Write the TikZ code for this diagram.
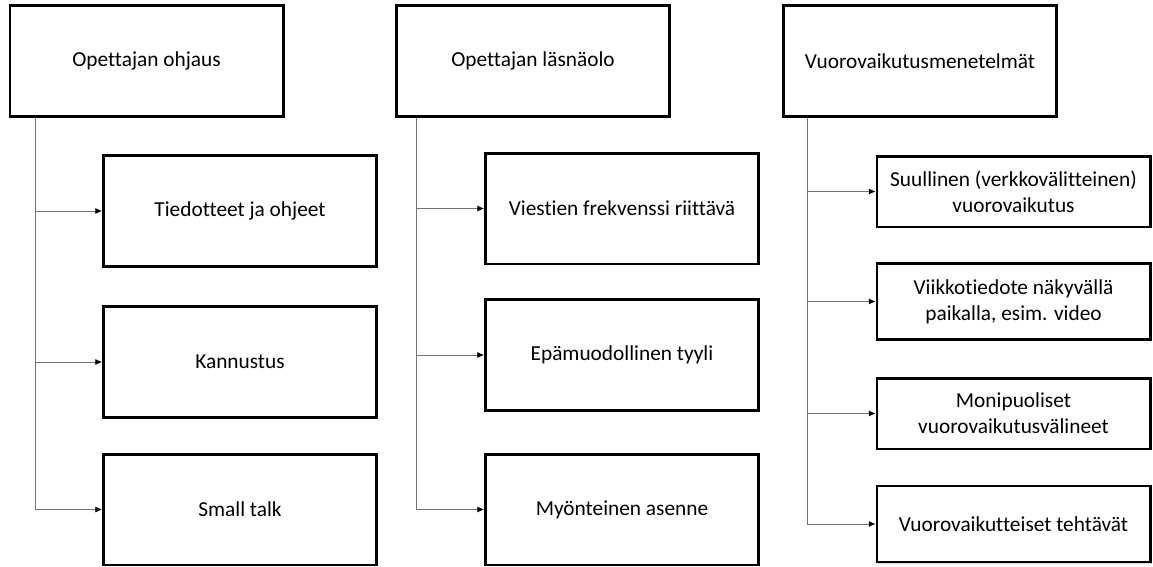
\documentclass[tikz,border=0pt]{standalone}
\usepackage{fontspec}
\setmainfont{Carlito}[Ligatures=NoCommon]
\usetikzlibrary{arrows.meta,shadows}

\begin{document}
\begin{tikzpicture}[x=0.75pt,y=0.75pt,yscale=-1,xscale=1,
  headbox/.style={draw,line width=2pt,fill=white,minimum width=205pt,minimum height=83pt,
    font=\fontsize{16}{19.5}\selectfont,drop shadow={shadow xshift=1.2pt,shadow yshift=-1.2pt,opacity=0.35}},
  itembox/.style={headbox,minimum width=205pt},
  conn/.style={draw=black!55,line width=0.6pt,-{Latex[length=5pt,width=4.5pt,black]}}]
\useasboundingbox (0,0) rectangle (1153,567);

% Headers
\node [headbox] (ohjaus) at (146.5,61) {Opettajan ohjaus};
\node [headbox] (lasna) at (533,61) {Opettajan läsnäolo};
\node [headbox] (menet) at (920,61) {Vuorovaikutusmenetelmät};

% Column 1
\node [itembox] (tiedot) at (240,211) {Tiedotteet ja ohjeet};
\node [itembox] (kannus) at (240,362) {Kannustus};
\node [itembox] (small) at (240,509.5) {Small talk};

% Column 2
\node [itembox] (freq) at (622,208.5) {Viestien frekvenssi riittävä};
\node [itembox] (tyyli) at (622,355) {Epämuodollinen tyyli};
\node [itembox] (asenne) at (622,509.5) {Myönteinen asenne};

% Column 3
\node [itembox,minimum height=53pt,align=center] (suull) at (1013.5,191.5) {Suullinen (verkkovälitteinen)\\vuorovaikutus};
\node [itembox,minimum height=57pt,align=center] (viikko) at (1013.5,301.5) {Viikkotiedote näkyvällä\\paikalla, esim. video};
\node [itembox,minimum height=53pt,align=center] (monip) at (1013.5,413.5) {Monipuoliset\\vuorovaikutusvälineet};
\node [itembox,minimum height=57pt] (tehtav) at (1013.5,524) {Vuorovaikutteiset tehtävät};

% trunk positions
\coordinate (t1) at (35,0);
\coordinate (t2) at (416,0);
\coordinate (t3) at (807,0);

%Connectors
\foreach \c in {tiedot,kannus,small}
  \draw [conn] (ohjaus.south -| t1) |- (\c.west);
\foreach \c in {freq,tyyli,asenne}
  \draw [conn] (lasna.south -| t2) |- (\c.west);
\foreach \c in {suull,viikko,monip,tehtav}
  \draw [conn] (menet.south -| t3) |- (\c.west);

\end{tikzpicture}
\end{document}
